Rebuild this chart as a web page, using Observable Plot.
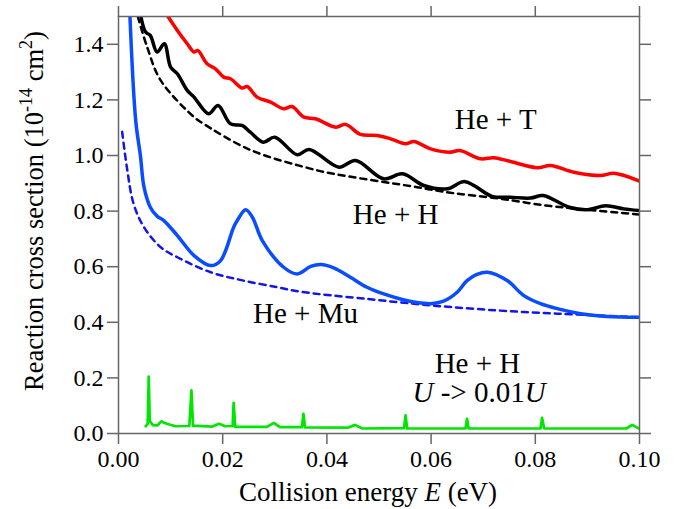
<!DOCTYPE html>
<html>
<head>
<meta charset="utf-8">
<script src="https://cdn.jsdelivr.net/npm/d3@7"></script>
<script src="https://cdn.jsdelivr.net/npm/@observablehq/plot@0.6"></script>
<style>
  body { margin: 0; background: #fff; }
  svg { display: block; }
  #chart svg text, #chart svg tspan { font-family: "Liberation Serif", serif; }
</style>
</head>
<body>
<div id="chart"></div>
<script>
// Collision energy E (eV) and reaction cross sections (10^-14 cm^2)

// He + T
const tritiumE = [0.0095, 0.0113, 0.0132, 0.0145, 0.0152, 0.0170, 0.0186, 0.0202, 0.0215, 0.0237, 0.0247, 0.0266,
  0.0292, 0.0317, 0.0333, 0.0356, 0.0378, 0.0417, 0.0436, 0.0464, 0.0497, 0.0522, 0.0551, 0.0567, 0.0599,
  0.0637, 0.0655, 0.0695, 0.0720, 0.0749, 0.0804, 0.0829, 0.0874, 0.0925, 0.0951, 0.1000];
const tritiumSigma = [1.500, 1.450, 1.402, 1.372, 1.378, 1.330, 1.312, 1.282, 1.276, 1.243, 1.248, 1.210,
  1.192, 1.168, 1.176, 1.138, 1.132, 1.102, 1.112, 1.076, 1.072, 1.060, 1.042, 1.050, 1.024,
  1.012, 1.018, 0.988, 0.992, 0.980, 0.956, 0.964, 0.940, 0.928, 0.936, 0.908];

// He + H
const hydrogenE = [0.0043, 0.0052, 0.0061, 0.0074, 0.0088, 0.0100, 0.0113, 0.0132, 0.0145, 0.0173, 0.0191, 0.0215,
  0.0237, 0.0253, 0.0278, 0.0300, 0.0343, 0.0366, 0.0423, 0.0455, 0.0509, 0.0545, 0.0586, 0.0631,
  0.0665, 0.0717, 0.0752, 0.0791, 0.0815, 0.0865, 0.0900, 0.0935, 0.0970, 0.1000];
const hydrogenSigma = [1.500, 1.444, 1.432, 1.372, 1.402, 1.318, 1.294, 1.234, 1.210, 1.150, 1.180, 1.114,
  1.108, 1.084, 1.048, 1.066, 1.003, 1.022, 0.958, 0.982, 0.916, 0.934, 0.892, 0.880,
  0.906, 0.853, 0.850, 0.847, 0.856, 0.814, 0.805, 0.819, 0.808, 0.802];

// He + H, classical (dashed)
const hydrogenClassicalE = [0.0037, 0.0055, 0.0081, 0.0145, 0.0160, 0.0253, 0.0370, 0.0413, 0.0573, 0.0637, 0.0727, 0.0830, 0.1000];
const hydrogenClassicalSigma = [1.500, 1.390, 1.270, 1.138, 1.118, 1.020, 0.952, 0.934, 0.886, 0.866, 0.846, 0.818, 0.788];

// He + Mu
const muoniumE = [0.0022, 0.0033, 0.0042, 0.0049, 0.0061, 0.0074, 0.0087, 0.0113, 0.0145, 0.0177, 0.0196, 0.0221,
  0.0228, 0.0244, 0.0257, 0.0276, 0.0317, 0.0343, 0.0369, 0.0388, 0.0413, 0.0445, 0.0477, 0.0509,
  0.0541, 0.0573, 0.0599, 0.0624, 0.0650, 0.0669, 0.0688, 0.0708, 0.0746, 0.0778, 0.0810, 0.0842,
  0.0887, 0.0938, 0.1000];
const muoniumSigma = [1.500, 1.126, 1.000, 0.886, 0.814, 0.782, 0.766, 0.712, 0.640, 0.604, 0.622, 0.742,
  0.766, 0.805, 0.778, 0.694, 0.598, 0.574, 0.601, 0.608, 0.596, 0.562, 0.526, 0.502,
  0.484, 0.471, 0.467, 0.476, 0.508, 0.550, 0.572, 0.580, 0.550, 0.496, 0.467, 0.449,
  0.431, 0.421, 0.418];

// He + Mu, classical (dashed)
const muoniumClassicalE = [0.0007, 0.0017, 0.0029, 0.0049, 0.0081, 0.0113, 0.0177, 0.0240, 0.0305, 0.0349, 0.0477, 0.0605, 0.0733, 0.0842, 0.1000];
const muoniumClassicalSigma = [1.085, 0.946, 0.826, 0.742, 0.670, 0.634, 0.580, 0.550, 0.526, 0.510, 0.484, 0.460, 0.442, 0.431, 0.418];

// He + H with U -> 0.01U
const weakE = [0.0052, 0.0056, 0.0058, 0.0060, 0.0066, 0.0075, 0.0082, 0.0086, 0.0094, 0.0110, 0.0136, 0.0140,
  0.0143, 0.0180, 0.0193, 0.0205, 0.0219, 0.0221, 0.0224, 0.0285, 0.0298, 0.0310, 0.0352, 0.0355,
  0.0358, 0.0440, 0.0454, 0.0468, 0.0548, 0.0551, 0.0554, 0.0666, 0.0669, 0.0672, 0.0810, 0.0813,
  0.0817, 0.0975, 0.0986, 0.1000];
const weakSigma = [0.026, 0.035, 0.205, 0.045, 0.030, 0.029, 0.044, 0.040, 0.034, 0.026, 0.027, 0.155,
  0.028, 0.025, 0.035, 0.026, 0.027, 0.110, 0.024, 0.024, 0.038, 0.023, 0.023, 0.071,
  0.022, 0.021, 0.031, 0.018, 0.019, 0.065, 0.018, 0.018, 0.053, 0.018, 0.018, 0.056,
  0.018, 0.018, 0.031, 0.017];

const xTicks = [0, 0.02, 0.04, 0.06, 0.08, 0.10];
const yTicks = [0, 0.2, 0.4, 0.6, 0.8, 1.0, 1.2, 1.4];

const rows = (E, S) => E.map((e, i) => ({E: e, sigma: S[i]}));

const serif = "Liberation Serif";
const axisGray = "#666";

const curve = (E, S, stroke, extra = {}) =>
  Plot.line(rows(E, S), {x: "E", y: "sigma", stroke, strokeWidth: 3.5, clip: true, curve: "catmull-rom", ...extra});

const plot = Plot.plot({
  width: 676,
  height: 509,
  marginLeft: 118,
  marginRight: 37,
  marginTop: 16,
  marginBottom: 76,
  style: "font-family: 'Liberation Serif', serif; font-size: 24px; color: #000; background: #fff;",
  x: {domain: [0, 0.1]},
  y: {domain: [0, 1.5]},
  marks: [
    // dashed reference curves
    curve(muoniumClassicalE, muoniumClassicalSigma, "#1414e6", {strokeWidth: 2.5, strokeDasharray: "6,5"}),
    curve(hydrogenClassicalE, hydrogenClassicalSigma, "#000", {strokeWidth: 2.5, strokeDasharray: "6,5"}),
    // full curves
    curve(weakE, weakSigma, "#00e600", {strokeWidth: 2.7, curve: "linear"}),
    curve(muoniumE, muoniumSigma, "#0a4cff"),
    curve(hydrogenE, hydrogenSigma, "#000"),
    curve(tritiumE, tritiumSigma, "#ff0000"),
    // frame and axes, ticks outward on all four sides
    Plot.frame({stroke: axisGray, strokeWidth: 1.5}),
    Plot.axisX(xTicks, {anchor: "bottom", tickSize: 11, tickPadding: 5, strokeWidth: 1.5, stroke: axisGray, fill: "#000",
      fontFamily: serif, fontSize: 24, tickFormat: d3.format(".2f"), label: null}),
    Plot.axisX(xTicks, {anchor: "top", tickSize: 11, strokeWidth: 1.5, stroke: axisGray, fill: "none", label: null}),
    Plot.axisY(yTicks, {anchor: "left", tickSize: 11, tickPadding: 4, strokeWidth: 1.5, stroke: axisGray, fill: "#000",
      fontFamily: serif, fontSize: 24, tickFormat: d3.format(".1f"), label: null}),
    Plot.axisY(yTicks, {anchor: "right", tickSize: 11, strokeWidth: 1.5, stroke: axisGray, fill: "none", label: null}),
    // curve labels
    Plot.text([
      {E: 0.0724, sigma: 1.097, label: "He + T"},
      {E: 0.0532, sigma: 0.755, label: "He + H"},
      {E: 0.0359, sigma: 0.396, label: "He + Mu"},
      {E: 0.0689, sigma: 0.219, label: "He + H"}
    ], {x: "E", y: "sigma", text: "label", textAnchor: "middle", lineAnchor: "bottom", fontFamily: serif, fontSize: 29, fill: "#000"})
  ]
});

const svg = d3.select(plot);
const x = plot.scale("x");
const y = plot.scale("y");

// "U -> 0.01U" with italic U
const note = svg.append("text")
  .attr("x", x.apply(0.0693))
  .attr("y", y.apply(0.113))
  .attr("text-anchor", "middle")
  .attr("font-family", serif)
  .attr("font-size", 29)
  .attr("fill", "#000");
note.append("tspan").attr("font-style", "italic").text("U");
note.append("tspan").text(" -> 0.01");
note.append("tspan").attr("font-style", "italic").text("U");

// x-axis title
const xt = svg.append("text")
  .attr("x", 368)
  .attr("y", 501)
  .attr("text-anchor", "middle")
  .attr("font-family", serif)
  .attr("font-size", 27)
  .attr("fill", "#000");
xt.append("tspan").text("Collision energy ");
xt.append("tspan").attr("font-style", "italic").text("E");
xt.append("tspan").text(" (eV)");

// y-axis title with superscripts
const yt = svg.append("text")
  .attr("transform", "translate(43,211) rotate(-90)")
  .attr("text-anchor", "middle")
  .attr("font-family", serif)
  .attr("font-size", 26.5)
  .attr("fill", "#000");
yt.append("tspan").text("Reaction cross section (10");
yt.append("tspan").attr("font-size", 18).attr("dy", -11).text("-14");
yt.append("tspan").attr("dy", 11).text(" cm");
yt.append("tspan").attr("font-size", 18).attr("dy", -11).text("2");
yt.append("tspan").attr("dy", 11).text(")");

document.getElementById("chart").appendChild(plot);
</script>
</body>
</html>
